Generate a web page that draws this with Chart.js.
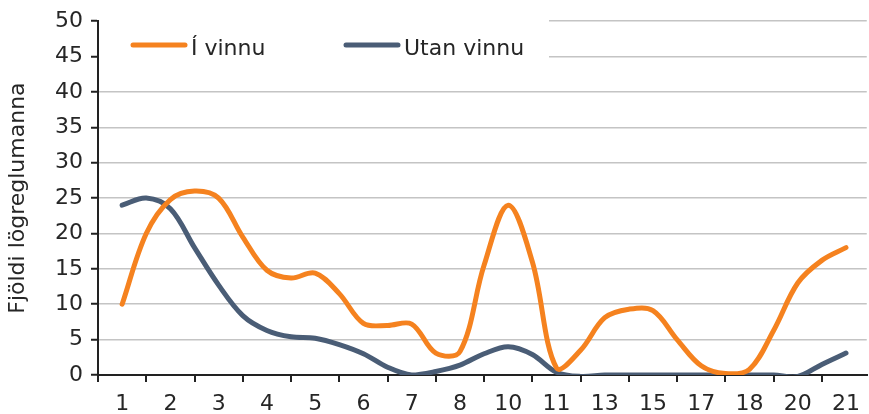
<!DOCTYPE html>
<html>
<head>
    <meta charset="utf-8">
    <title>Fjöldi lögreglumanna</title>
    <script src="https://cdn.jsdelivr.net/npm/chart.js@4.4.0/dist/chart.umd.min.js"></script>
    <style>
        body{
            margin: 0;
            background-color: #ffffff;
        }
        #chartbox{
            width: 869px;
            height: 414px;
        }
    </style>
</head>
<body>
    <div id="chartbox">
        <canvas id="myChart"></canvas>
    </div>

    <script>
        // labels shown under the axis, one per pair of points
        const tickLabels = ['1','2','3','4','5','6','7','8','10','11','13','15','17','18','20','21']

        // values, two points per label interval
        const iVinnu = [10, 20, 24.8, 26, 25, 19.5, 14.8, 13.7, 14.4, 11.5, 7.3, 7, 7.2, 3.1, 3.3, 15.5,
                        24, 16, 1, 3.5, 8.1, 9.3, 9.1, 5, 1.3, 0.2, 0.8, 6.3, 13, 16.2, 18]
        const utanVinnu = [24, 25, 23.5, 18, 12.7, 8.4, 6.3, 5.4, 5.2, 4.3, 3, 1.1, 0, 0.5, 1.4, 3,
                           4, 2.9, 0.4, -0.2, 0, 0, 0, 0, 0, 0, 0, 0, -0.2, 1.5, 3.1]

        const seriesNames = ['Í vinnu', 'Utan vinnu']
        const seriesColors = ['#f5821f', '#4a5d76']

        function toPoints(values){
            var pts = []
            for(i = 0; i < values.length; i++){
                pts.push({x: i + 1, y: values[i]})
            }
            return pts
        }

        // white box with the legend, drawn over the grid inside the plot
        const legendBox = {
            id: 'legendBox',
            beforeDatasetsDraw(chart){
                const ctx = chart.ctx
                const area = chart.chartArea
                const y = chart.scales.y
                ctx.save()
                ctx.fillStyle = '#ffffff'
                ctx.fillRect(area.left + 1, 0, 548 - area.left, y.getPixelForValue(42.5))

                const starts = [133, 346]
                ctx.font = '22px "DejaVu Sans"'
                ctx.textBaseline = 'alphabetic'
                for(i = 0; i < seriesNames.length; i++){
                    ctx.strokeStyle = seriesColors[i]
                    ctx.lineWidth = 5
                    ctx.lineCap = 'round'
                    ctx.beginPath()
                    ctx.moveTo(starts[i], 45)
                    ctx.lineTo(starts[i] + 52, 45)
                    ctx.stroke()
                    ctx.fillStyle = '#262626'
                    ctx.fillText(seriesNames[i], starts[i] + 58, 55)
                }
                ctx.restore()
            }
        }

        const ctx1 = document.getElementById('myChart').getContext('2d')
        const mychart = new Chart(ctx1, {
            type: 'line',
            data: {
                datasets: [
                    {
                        label: seriesNames[0],
                        data: toPoints(iVinnu),
                        borderColor: seriesColors[0],
                        backgroundColor: seriesColors[0],
                        borderWidth: 5,
                        borderCapStyle: 'round',
                        borderJoinStyle: 'round',
                        pointRadius: 0,
                        tension: 0.35
                    },
                    {
                        label: seriesNames[1],
                        data: toPoints(utanVinnu),
                        borderColor: seriesColors[1],
                        backgroundColor: seriesColors[1],
                        borderWidth: 5,
                        borderCapStyle: 'round',
                        borderJoinStyle: 'round',
                        pointRadius: 0,
                        tension: 0.35
                    }
                ]
            },
            options: {
                responsive: true,
                maintainAspectRatio: false,
                animation: false,
                layout: {
                    padding: {top: 20, right: 0, left: 0, bottom: 0}
                },
                plugins: {
                    legend: {display: false},
                    tooltip: {enabled: false}
                },
                scales: {
                    x: {
                        type: 'linear',
                        min: 0,
                        max: 31.86,
                        afterBuildTicks: function(axis){
                            var t = []
                            for(i = 0; i <= 31; i++) t.push({value: i})
                            axis.ticks = t
                        },
                        afterFit: function(axis){ axis.height = 39 },
                        ticks: {
                            autoSkip: false,
                            maxRotation: 0,
                            padding: 9,
                            color: '#262626',
                            font: {family: 'DejaVu Sans', size: 22},
                            callback: function(value){
                                if(value % 2 === 1) return tickLabels[(value - 1) / 2]
                                return ''
                            }
                        },
                        grid: {
                            drawOnChartArea: false,
                            tickLength: 7,
                            lineWidth: 2,
                            tickColor: function(c){
                                return (c.tick && c.tick.value % 2 === 0) ? '#222222' : 'rgba(0,0,0,0)'
                            }
                        },
                        border: {color: '#222222', width: 2}
                    },
                    y: {
                        min: 0,
                        max: 50,
                        afterFit: function(axis){ axis.width = 98 },
                        ticks: {
                            stepSize: 5,
                            padding: 8,
                            color: '#262626',
                            font: {family: 'DejaVu Sans', size: 22}
                        },
                        grid: {
                            color: '#c4c4c4',
                            lineWidth: 1.5,
                            tickLength: 7,
                            tickColor: '#222222',
                            tickWidth: 2
                        },
                        border: {color: '#222222', width: 2},
                        title: {
                            display: true,
                            text: 'Fjöldi lögreglumanna',
                            color: '#262626',
                            font: {family: 'DejaVu Sans', size: 22},
                            padding: {top: 5, bottom: 0}
                        }
                    }
                }
            },
            plugins: [legendBox]
        })
    </script>
</body>
</html>
